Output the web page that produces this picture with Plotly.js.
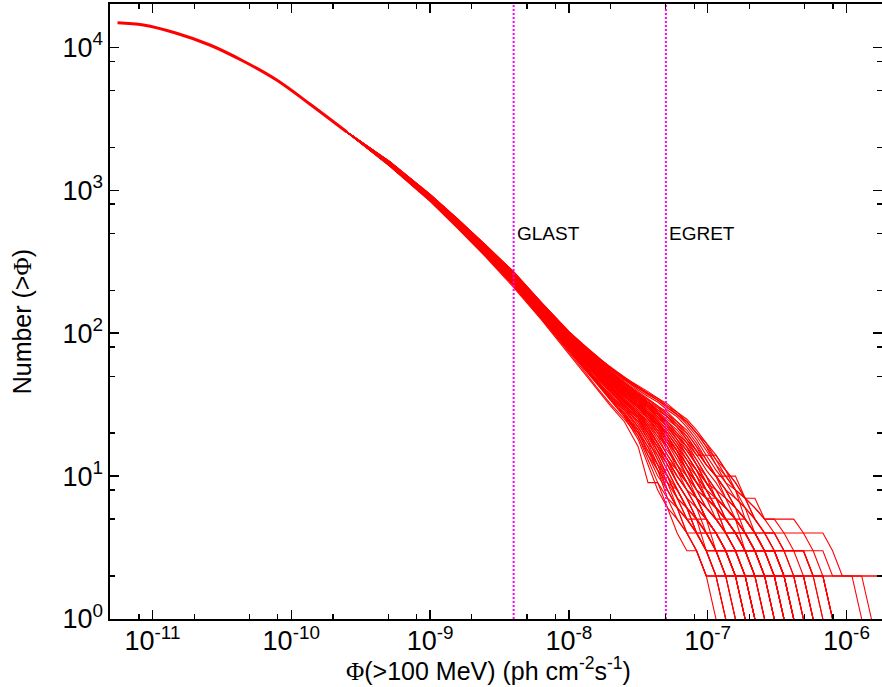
<!DOCTYPE html>
<html><head><meta charset="utf-8">
<script src="https://cdn.plot.ly/plotly-3.0.1.min.js"></script>
<style>html,body{margin:0;padding:0;background:#fff}#chart{width:882px;height:687px}</style>
</head><body><div id="chart"></div>
<script>
// shared faint-end part of the logN-logS curve (all realisations coincide here)
const bodyFlux = [5.6e-12, 8.6e-12, 1.49e-11, 2.59e-11, 4.5e-11, 7.85e-11, 1.36e-10, 2.5e-10];
const bodyN    = [14860, 14320, 12540, 10380, 8020, 5900, 4010, 2565];

// flux grid of the individual realisations (ph cm^-2 s^-1)
const tailFlux = [5.13e-10, 1.0e-9, 1.585e-9, 2.512e-9, 3.981e-9, 6.31e-9, 1.0e-8, 1.259e-8, 1.585e-8, 1.995e-8,
  2.512e-8, 3.162e-8, 3.715e-8, 4.365e-8, 5.129e-8, 6.026e-8, 7.079e-8, 8.318e-8, 9.772e-8, 1.148e-7,
  1.349e-7, 1.585e-7, 1.862e-7, 2.188e-7, 2.570e-7, 3.020e-7, 3.548e-7, 4.169e-7, 4.898e-7, 5.754e-7,
  6.761e-7, 7.943e-7, 9.333e-7, 1.096e-6, 1.288e-6, 1.514e-6, 1.778e-6, 2.089e-6];

// N(>flux) of each simulated realisation on tailFlux
const realisations = [
  [1467,835,539,342,210,125,72,54,41,31,24,16,9,9,7,6,4,3,2,2,1],
  [1480,846,549,348,217,128,75,57,44,34,26,18,12,8,6,4,3,3,2,2,2,1],
  [1491,857,556,357,221,133,78,60,46,36,28,20,15,11,7,5,4,3,2,2,1],
  [1494,855,558,355,223,131,77,59,47,36,29,21,14,10,8,6,5,5,4,3,3,2,2,2,2,1],
  [1503,868,566,364,228,137,81,63,49,38,31,23,18,13,9,7,5,4,3,3,2,2,1],
  [1506,866,567,362,229,136,80,62,48,39,30,22,17,14,10,7,6,4,4,3,3,2,2,1],
  [1505,869,565,365,227,138,82,63,50,40,32,25,20,16,12,9,7,5,4,3,3,3,2,1],
  [1516,878,577,371,235,141,84,65,52,41,33,26,21,16,12,9,7,5,4,3,3,2,2,1],
  [1518,876,575,372,234,140,85,66,51,42,34,27,22,17,13,10,8,6,5,4,4,3,3,3,2,2,2,1],
  [1519,879,578,370,236,142,83,64,50,40,31,24,18,13,10,7,6,5,3,2,2,1],
  [1515,877,574,373,233,139,84,66,53,42,33,26,20,15,11,8,6,5,4,4,3,2,1],
  [1529,888,586,379,241,145,87,69,55,44,36,29,24,20,15,12,9,7,5,4,3,3,2,2,1],
  [1531,887,585,380,242,146,88,68,54,43,35,28,23,19,16,12,10,8,6,5,4,3,3,2,2,2,2,2,2,1],
  [1527,889,587,378,240,144,86,67,54,44,37,30,25,21,16,11,8,6,5,4,3,2,2,1],
  [1530,890,584,381,243,147,89,70,56,45,36,31,27,23,19,15,12,9,7,6,5,4,3,3,2,1],
  [1528,886,588,377,239,145,88,69,55,43,35,28,24,19,14,11,9,7,6,5,4,4,4,3,3,2,1],
  [1542,900,596,387,248,150,91,72,58,47,38,32,28,23,19,15,12,9,7,6,4,3,3,2,2,1],
  [1544,898,594,388,247,149,90,71,57,46,39,33,27,22,18,15,11,8,7,5,4,3,2,2,1],
  [1540,901,597,386,249,151,92,73,59,48,39,31,26,23,20,16,13,10,8,6,5,4,4,3,3,3,2,2,1],
  [1543,899,595,389,246,148,90,72,58,47,38,32,27,23,18,14,10,7,5,3,2,2,2,2,2,2,2,2,2,2,2,2,2,2,2,2,2,2],
  [1541,900,598,385,248,150,91,71,57,47,38,32,28,24,19,15,12,9,7,6,5,4,3,3,3,3,3,3,2,2,1],
  [1545,902,596,388,250,152,93,74,60,49,40,34,30,26,22,18,15,12,9,7,6,5,4,3,2,2,1],
  [1539,897,593,385,245,147,89,70,57,46,37,30,25,20,16,12,9,7,5,4,3,2,2,1],
  [1555,911,606,396,255,154,94,75,61,50,42,35,31,27,23,20,16,12,10,7,6,5,4,3,2,2,1],
  [1557,909,605,394,254,155,95,76,62,51,41,36,31,26,22,19,15,12,9,8,6,5,5,4,4,3,3,2,2,1],
  [1553,912,607,397,256,153,93,74,60,49,41,34,30,27,24,20,17,13,10,8,7,6,4,3,3,2,2,2,1],
  [1556,910,604,395,253,154,94,76,62,50,42,35,32,28,23,19,16,12,9,7,5,4,3,2,2,2,2,1],
  [1554,911,606,396,255,156,96,77,63,52,43,37,33,28,24,21,17,14,14,14,11,8,5,4,3,2,2,2,2,2,2,1],
  [1558,913,608,398,257,157,97,78,64,53,44,38,34,31,27,24,20,16,13,10,8,6,5,4,3,2,2,1],
  [1568,922,616,404,262,159,98,79,65,54,45,38,34,30,27,23,20,16,12,10,8,6,5,4,3,3,2,1],
  [1570,921,615,403,261,158,97,78,64,53,44,37,33,30,26,23,19,15,12,10,8,7,6,5,4,4,3,3,3,2,2,1],
  [1566,923,617,405,263,160,99,80,66,55,46,39,35,31,28,24,21,17,13,10,10,10,7,5,4,3,2,2,2,1],
  [1569,920,614,402,260,158,98,79,64,53,45,38,33,29,26,22,18,15,12,10,7,5,4,4,3,3,3,3,3,3,3,2,2,2,2,2,2,2],
  [1567,924,618,406,264,161,100,81,67,56,47,41,37,34,30,27,24,20,16,13,10,8,6,5,4,3,2,2,1],
  [1581,934,627,412,269,164,102,83,69,58,48,42,38,35,31,28,25,21,17,13,11,9,7,6,5,5,5,5,4,3,2,1],
  [1583,932,625,413,268,163,101,82,68,57,49,43,39,35,32,28,24,20,16,12,10,8,7,6,5,5,4,4,4,4,4,3,2,2,1],
  [1579,935,628,411,270,165,103,84,69,57,48,41,37,34,30,27,23,19,15,12,9,7,6,4,3,3,2,1],
  [1582,933,626,414,267,162,100,82,67,56,47,40,36,33,29,26,22,18,14,11,9,8,7,7,5,4,4,3,3,2,2,1],
  [1580,936,627,413,269,164,102,83,68,58,49,42,38,34,31,27,24,20,17,14,11,9,7,5,4,4,3,3,3,2,2,2,2,2,2,1],
  [1530,887,586,380,242,146,89,71,58,49,41,36,33,29,26,22,19,15,12,10,8,6,5,4,3,3,2,2,1],
  [1478,844,547,347,215,127,74,56,42,32,25,19,13,9,6,5,4,3,2,1],
  [1490,854,555,354,220,130,76,58,45,35,27,20,16,12,9,6,5,4,3,3,2,2,1],
  [1502,865,564,361,226,135,79,61,47,37,29,22,17,12,8,6,5,4,4,4,3,2,2,1],
  [1514,875,573,369,232,139,83,64,50,40,32,25,19,15,11,8,6,5,5,4,3,3,2,2,2,1],
  [1526,885,583,376,238,143,86,67,53,42,34,28,23,18,14,11,9,7,6,5,4,3,2,1],
  [1538,896,592,384,244,146,88,69,56,45,37,31,26,22,17,13,10,8,6,5,5,4,3,3,2,2,1],
  [1546,903,599,390,251,151,92,73,59,47,38,33,29,24,20,16,12,10,8,6,4,4,3,2,2,2,2,1],
  [1552,908,603,393,252,153,93,74,61,49,40,34,29,25,21,17,13,11,9,7,6,5,4,3,3,3,2,1],
  [1559,914,609,399,258,156,95,75,60,48,40,33,28,24,20,16,13,10,7,6,5,4,4,3,2,2,1],
  [1571,925,619,407,262,157,96,77,63,52,43,36,32,28,25,22,18,14,11,9,7,6,5,4,4,4,3,2,2,1],
  [1565,919,613,401,259,156,96,78,65,54,45,37,32,27,23,19,16,13,10,8,6,5,3,3,2,1],
  [1500,864,563,360,225,134,79,60,46,35,27,19,14,11,9,8,6,4,3,2,2,1],
  [1532,891,589,382,244,147,88,68,53,42,34,27,21,17,13,10,8,6,4,3,3,2,2,2,1],
  [1537,895,591,383,245,148,90,71,56,46,37,30,26,21,17,14,11,8,7,7,6,5,4,3,3,2,2,2,2,2,1],
  [1551,907,602,392,251,152,93,74,60,50,41,35,30,26,22,18,14,11,9,7,5,4,3,3,3,3,3,3,3,2,2,1],
  [1485,850,552,351,218,129,76,58,45,35,27,21,16,11,8,6,4,4,3,2,1],
  [1497,861,561,359,224,134,79,61,47,37,30,24,19,14,10,8,6,4,3,3,2,2,1],
  [1510,872,570,367,231,138,82,64,50,39,31,25,20,15,12,9,7,6,5,4,3,2,2,1],
  [1522,882,580,375,237,142,85,66,52,41,33,27,22,17,13,10,8,7,6,5,4,4,3,2,1],
  [1535,893,590,383,243,146,88,69,55,44,36,30,25,21,16,12,9,7,5,4,3,3,3,2,2,1],
  [1548,904,600,391,250,151,92,73,58,47,39,33,28,24,19,15,11,9,7,6,5,4,3,2,2,2,1],
  [1550,906,601,392,252,153,93,74,60,49,40,34,30,25,21,17,14,11,8,6,5,5,4,3,3,2,2,1],
  [1562,917,611,400,259,157,96,77,63,51,42,36,31,27,22,18,14,11,8,6,5,4,3,3,2,2,1],
  [1512,873,572,368,231,139,83,65,51,41,33,26,20,16,13,11,9,7,5,4,3,3,2,2,2,2,1],
  [1525,884,582,375,238,144,87,68,54,43,35,28,22,17,13,9,7,5,4,3,2,2,1],
  [1547,905,600,391,251,152,92,72,57,46,37,31,27,22,18,14,11,9,8,7,6,5,4,4,3,3,2,2,2,1],
  [1488,852,554,353,219,131,77,59,45,34,26,20,15,12,10,7,5,4,3,2,2,2,1]
];

// sensitivity limits
const glastFlux = 4e-9;
const egretFlux = 5e-8;

// axis ticks
const xMajor = [1e-11, 1e-10, 1e-9, 1e-8, 1e-7, 1e-6];
const xLabels = ['10<sup>-11</sup>','10<sup>-10</sup>','10<sup>-9</sup>','10<sup>-8</sup>','10<sup>-7</sup>','10<sup>-6</sup>'];
const yMajor = [1, 10, 100, 1000, 10000];
const yLabels = ['10<sup>0</sup>','10<sup>1</sup>','10<sup>2</sup>','10<sup>3</sup>','10<sup>4</sup>'];
const minorMult = [2, 5, 8];
const xDecades = [1e-12, 1e-11, 1e-10, 1e-9, 1e-8, 1e-7, 1e-6];
const yDecades = [1, 10, 100, 1000, 10000];

const xMinor = [], yMinor = [];
xDecades.forEach(d => minorMult.forEach(m => xMinor.push(m * d)));
yDecades.forEach(d => minorMult.forEach(m => yMinor.push(m * d)));

const RED = '#ff0000';
const traces = [];
traces.push({x: bodyFlux, y: bodyN, mode: 'lines', line: {color: RED, width: 3, shape: 'spline', smoothing: 1}, hoverinfo: 'skip'});
realisations.forEach(r => {
  traces.push({
    x: [bodyFlux[bodyFlux.length-1]].concat(tailFlux.slice(0, r.length)),
    y: [bodyN[bodyN.length-1]].concat(r),
    mode: 'lines', line: {color: RED, width: 1.1}, hoverinfo: 'skip'
  });
});
// vertical sensitivity markers spanning the full plot height (overlay axis 0..1)
[glastFlux, egretFlux].forEach(f => {
  traces.push({x: [f, f], y: [0, 1], yaxis: 'y2', mode: 'lines',
    line: {color: '#ff00ff', width: 2, dash: '2px,2px'}, hoverinfo: 'skip'});
});

const PHI = '<span style="font-family:\'Liberation Serif\',\'DejaVu Serif\',serif">Φ</span>';

const axisCommon = {
  type: 'log', ticks: 'inside', ticklen: 9, tickwidth: 1.3, tickcolor: '#000',
  showline: true, linecolor: '#000', linewidth: 1.6, mirror: 'ticks',
  showgrid: false, zeroline: false, tickmode: 'array',
  tickfont: {size: 27, color: '#000'}
};

const layout = {
  width: 882, height: 687,
  margin: {l: 110, r: 0, t: 4, b: 68, pad: 0},
  paper_bgcolor: '#fff', plot_bgcolor: '#fff',
  font: {family: '"Liberation Sans", Arial, sans-serif', size: 24, color: '#000'},
  showlegend: false,
  xaxis: Object.assign({}, axisCommon, {
    range: [-11.306, -5.744], tickvals: xMajor, ticktext: xLabels, ticklabelstandoff: -3,
    minor: {tickmode: 'array', tickvals: xMinor, ticks: 'inside', ticklen: 5, tickwidth: 1.2, tickcolor: '#000', showgrid: false}
  }),
  yaxis: Object.assign({}, axisCommon, {
    range: [0, 4.303], tickvals: yMajor, ticktext: yLabels,
    minor: {tickmode: 'array', tickvals: yMinor, ticks: 'inside', ticklen: 5, tickwidth: 1.2, tickcolor: '#000', showgrid: false}
  }),
  yaxis2: {overlaying: 'y', range: [0, 1], visible: false, fixedrange: true},
  annotations: [
    {text: PHI + '(>100 MeV) (ph cm<sup>-2</sup>s<sup>-1</sup>)', xref: 'paper', yref: 'paper',
     x: 0.49, y: -0.1095, xanchor: 'center', yanchor: 'bottom', borderpad: 0, showarrow: false, font: {size: 25, color: '#000'}},
    {text: 'Number (>' + PHI + ')', xref: 'paper', yref: 'paper', textangle: -90,
     x: -0.114, y: 0.484, xanchor: 'center', yanchor: 'middle', showarrow: false, font: {size: 25, color: '#000'}}
  ].concat([['GLAST', glastFlux], ['EGRET', egretFlux]].map(([t, f]) => ({
    text: t, xref: 'x', yref: 'paper', x: Math.log10(f), y: 0.6275, xanchor: 'left', yanchor: 'middle',
    xshift: 1, showarrow: false, font: {size: 19, color: '#000'}
  })))
};

Plotly.newPlot('chart', traces, layout, {staticPlot: true, displayModeBar: false});
</script>
</body></html>
